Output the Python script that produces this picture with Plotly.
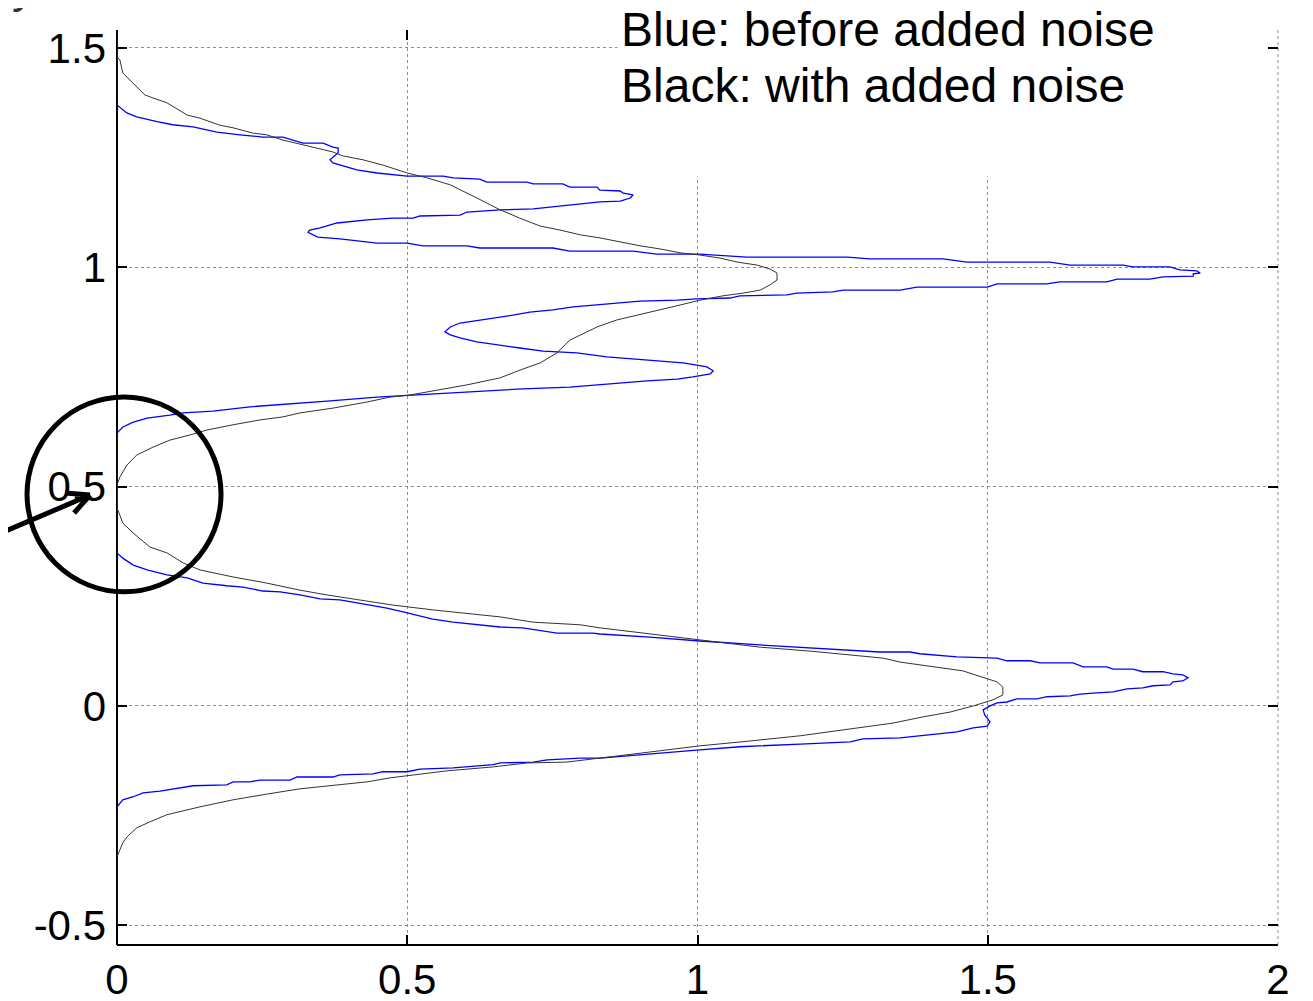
import plotly.graph_objects as go

# ---- data (density on x, value on y) ----
blue_x = [0, 0, 0.017, 0.034, 0.069, 0.096, 0.131, 0.172, 0.212, 0.251, 0.286, 0.320, 0.355, 0.372, 0.381,
          0.381, 0.367, 0.372, 0.413, 0.448, 0.500, 0.562, 0.579, 0.625, 0.637, 0.706, 0.717, 0.768, 0.780,
          0.827, 0.832, 0.867, 0.872, 0.889, 0.884, 0.867, 0.832, 0.786, 0.717, 0.660, 0.603, 0.591, 0.522,
          0.510, 0.475, 0.431, 0.379, 0.350, 0.332, 0.329, 0.346, 0.384, 0.448, 0.500, 0.527, 0.603, 0.625,
          0.751, 0.780, 0.889, 0.930, 1.004, 1.085, 1.258, 1.297, 1.423, 1.464, 1.607, 1.642, 1.733, 1.750,
          1.814, 1.831, 1.860, 1.866, 1.854, 1.854, 1.802, 1.779, 1.723, 1.705, 1.624, 1.602, 1.516, 1.499,
          1.378, 1.349, 1.251, 1.233, 1.171, 1.154, 1.073, 1.056, 0.999, 0.965, 0.901, 0.837, 0.786, 0.751,
          0.711, 0.682, 0.648, 0.620, 0.591, 0.574, 0.565, 0.574, 0.591, 0.620, 0.655, 0.694, 0.734, 0.792,
          0.844, 0.889, 0.947, 0.975, 0.999, 1.016, 1.027, 1.022, 0.992, 0.965, 0.913, 0.844, 0.780, 0.699,
          0.603, 0.505, 0.448, 0.362, 0.286, 0.229, 0.165, 0.114, 0.091, 0.052, 0.028, 0.010, 0,
          0, 0.010, 0.028, 0.052, 0.086, 0.121, 0.148, 0.189, 0.217, 0.251, 0.281, 0.315, 0.350, 0.384,
          0.436, 0.465, 0.500, 0.544, 0.579, 0.613, 0.660, 0.699, 0.758, 0.820, 0.832, 0.918, 1.004, 1.108,
          1.194, 1.263, 1.314, 1.366, 1.383, 1.447, 1.516, 1.533, 1.573, 1.590, 1.647, 1.664, 1.705, 1.716,
          1.750, 1.767, 1.802, 1.819, 1.836, 1.845, 1.836, 1.819, 1.814, 1.785, 1.767, 1.740, 1.716, 1.688,
          1.659, 1.642, 1.602, 1.585, 1.550, 1.533, 1.516, 1.504, 1.492, 1.495, 1.504, 1.499, 1.475, 1.447,
          1.423, 1.378, 1.361, 1.349, 1.285, 1.263, 1.177, 1.073, 1.004, 0.918, 0.832, 0.798, 0.741, 0.717,
          0.660, 0.648, 0.603, 0.579, 0.522, 0.500, 0.458, 0.441, 0.384, 0.372, 0.310, 0.298, 0.246, 0.229,
          0.200, 0.189, 0.131, 0.109, 0.074, 0.045, 0.028, 0.010, 0, 0]
blue_y = [1.541, 1.370, 1.352, 1.343, 1.332, 1.325, 1.320, 1.308, 1.302, 1.297, 1.297, 1.283, 1.283, 1.274, 1.272,
          1.261, 1.245, 1.238, 1.222, 1.215, 1.208, 1.208, 1.204, 1.201, 1.194, 1.194, 1.190, 1.190, 1.183,
          1.183, 1.176, 1.174, 1.169, 1.165, 1.158, 1.151, 1.149, 1.142, 1.133, 1.131, 1.126, 1.119, 1.117,
          1.112, 1.112, 1.108, 1.101, 1.090, 1.085, 1.080, 1.069, 1.065, 1.055, 1.055, 1.049, 1.049, 1.044,
          1.044, 1.037, 1.037, 1.030, 1.030, 1.023, 1.023, 1.019, 1.019, 1.012, 1.012, 1.005, 1.005, 1.001,
          1.001, 0.994, 0.992, 0.987, 0.985, 0.980, 0.978, 0.973, 0.973, 0.967, 0.967, 0.962, 0.962, 0.955,
          0.955, 0.948, 0.948, 0.944, 0.941, 0.937, 0.935, 0.930, 0.928, 0.925, 0.923, 0.916, 0.910, 0.903,
          0.898, 0.891, 0.884, 0.878, 0.873, 0.864, 0.853, 0.846, 0.839, 0.830, 0.823, 0.816, 0.809, 0.805,
          0.796, 0.791, 0.784, 0.782, 0.777, 0.773, 0.764, 0.757, 0.750, 0.745, 0.741, 0.734, 0.727, 0.723,
          0.716, 0.709, 0.704, 0.695, 0.688, 0.682, 0.672, 0.668, 0.663, 0.656, 0.647, 0.636, 0.622,
          0.349, 0.337, 0.321, 0.310, 0.299, 0.292, 0.280, 0.274, 0.271, 0.262, 0.260, 0.253, 0.244, 0.242,
          0.230, 0.223, 0.212, 0.198, 0.191, 0.187, 0.180, 0.178, 0.166, 0.166, 0.164, 0.157, 0.148, 0.139,
          0.132, 0.128, 0.123, 0.123, 0.119, 0.112, 0.109, 0.103, 0.103, 0.098, 0.098, 0.089, 0.089, 0.084,
          0.084, 0.078, 0.078, 0.073, 0.071, 0.064, 0.057, 0.055, 0.048, 0.046, 0.041, 0.039, 0.032, 0.030,
          0.027, 0.023, 0.021, 0.016, 0.016, 0.009, 0.007, 0.000, -0.009, -0.021, -0.036, -0.046, -0.050, -0.059,
          -0.062, -0.068, -0.071, -0.073, -0.075, -0.082, -0.087, -0.093, -0.100, -0.109, -0.119, -0.119, -0.123, -0.128,
          -0.130, -0.134, -0.139, -0.141, -0.144, -0.150, -0.150, -0.155, -0.157, -0.162, -0.162, -0.169, -0.169, -0.173,
          -0.173, -0.180, -0.182, -0.187, -0.194, -0.198, -0.207, -0.214, -0.230, -0.499]

black_x = [0, 0.005, 0.010, 0.028, 0.048, 0.062, 0.086, 0.121, 0.143, 0.177, 0.200, 0.234, 0.258, 0.286, 0.315,
           0.345, 0.372, 0.389, 0.424, 0.458, 0.500, 0.534, 0.574, 0.620, 0.660, 0.694, 0.729, 0.763, 0.798,
           0.832, 0.867, 0.901, 0.935, 0.970, 1.004, 1.039, 1.068, 1.103, 1.125, 1.137, 1.137, 1.125, 1.108,
           1.078, 1.044, 1.004, 0.970, 0.918, 0.861, 0.827, 0.798, 0.780, 0.758, 0.729, 0.699, 0.660, 0.603,
           0.551, 0.505, 0.470, 0.431, 0.372, 0.315, 0.286, 0.246, 0.200, 0.155, 0.126, 0.091, 0.062, 0.034,
           0.017, 0.005, 0, 0, 0.005, 0.010, 0.028, 0.057, 0.086, 0.114, 0.143, 0.200, 0.258, 0.315, 0.362,
           0.419, 0.475, 0.544, 0.603, 0.660, 0.717, 0.798, 0.832, 0.918, 1.004, 1.108, 1.194, 1.263, 1.320,
           1.349, 1.401, 1.457, 1.499, 1.516, 1.526, 1.526, 1.509, 1.475, 1.435, 1.388, 1.337, 1.285, 1.263,
           1.177, 1.090, 1.004, 0.918, 0.832, 0.775, 0.706, 0.648, 0.568, 0.517, 0.470, 0.431, 0.372, 0.315,
           0.258, 0.200, 0.143, 0.086, 0.057, 0.034, 0.017, 0.010, 0.005, 0]
black_y = [1.479, 1.473, 1.443, 1.420, 1.393, 1.386, 1.375, 1.347, 1.340, 1.324, 1.318, 1.306, 1.302, 1.290, 1.281,
           1.272, 1.263, 1.254, 1.245, 1.233, 1.215, 1.204, 1.188, 1.158, 1.131, 1.112, 1.094, 1.085, 1.074,
           1.067, 1.058, 1.049, 1.042, 1.033, 1.028, 1.021, 1.012, 1.005, 0.996, 0.987, 0.971, 0.960, 0.948,
           0.941, 0.935, 0.925, 0.914, 0.898, 0.880, 0.864, 0.846, 0.834, 0.805, 0.782, 0.768, 0.748, 0.732,
           0.720, 0.709, 0.704, 0.693, 0.679, 0.668, 0.659, 0.652, 0.641, 0.629, 0.618, 0.606, 0.590, 0.572,
           0.549, 0.522, 0.504, 0.451, 0.435, 0.417, 0.394, 0.362, 0.349, 0.326, 0.310, 0.294, 0.280, 0.264, 0.253,
           0.242, 0.230, 0.219, 0.210, 0.203, 0.191, 0.185, 0.178, 0.164, 0.150, 0.134, 0.125, 0.116, 0.109,
           0.100, 0.091, 0.080, 0.062, 0.055, 0.043, 0.025, 0.014, 0.000, -0.014, -0.025, -0.039, -0.048, -0.052,
           -0.068, -0.080, -0.091, -0.105, -0.119, -0.128, -0.130, -0.139, -0.148, -0.157, -0.164, -0.173, -0.182, -0.189,
           -0.201, -0.214, -0.230, -0.248, -0.264, -0.278, -0.299, -0.312, -0.328, -0.344]

x_ticks = [0, 0.5, 1, 1.5, 2]
x_tick_labels = ["0", "0.5", "1", "1.5", "2"]
y_ticks = [-0.5, 0, 0.5, 1, 1.5]
y_tick_labels = ["-0.5", "0", "0.5", "1", "1.5"]
x_range = [0, 2]
y_range = [-0.545, 1.541]

FONT = "Arial, 'Liberation Sans', sans-serif"

fig = go.Figure()
fig.add_trace(go.Scatter(x=blue_x, y=blue_y, mode="lines",
                         line=dict(color="#0000ff", width=1.3), showlegend=False))
fig.add_trace(go.Scatter(x=black_x, y=black_y, mode="lines",
                         line=dict(color="#333333", width=1), showlegend=False))

axis_common = dict(
    showgrid=True, gridcolor="#8c8c8c", gridwidth=1, griddash="dot",
    zeroline=False, showline=False, mirror="ticks", automargin=False,
    ticks="inside", ticklen=10, tickwidth=2, tickcolor="black",
    tickfont=dict(family=FONT, size=42, color="black"),
    layer="below traces",
)
fig.update_xaxes(range=x_range, tickvals=x_ticks, ticktext=x_tick_labels,
                 ticklabelstandoff=6, **axis_common)
fig.update_yaxes(range=y_range, tickvals=y_ticks, ticktext=y_tick_labels,
                 ticklabelstandoff=10, **axis_common)

# axis lines (left and bottom) and right grid line
fig.add_shape(type="line", xref="paper", yref="paper", x0=0, x1=0, y0=0, y1=1,
              line=dict(color="black", width=2), layer="below")
fig.add_shape(type="line", xref="paper", yref="paper", x0=0, x1=1, y0=0, y1=0,
              line=dict(color="black", width=2), layer="below")
fig.add_shape(type="line", xref="paper", yref="paper", x0=1, x1=1, y0=0, y1=1,
              line=dict(color="#8c8c8c", width=1, dash="dot"), layer="below")

# white box behind the text
fig.add_shape(type="rect", xref="paper", yref="paper", x0=0.431, x1=0.990, y0=0.840, y1=1.05,
              fillcolor="white", line=dict(width=0), layer="above")

fig.add_annotation(xref="paper", yref="paper", x=0.4324, y=1.0003, xanchor="left", yanchor="middle",
                   text="Blue: before added noise", showarrow=False,
                   font=dict(family=FONT, size=48, color="black"))
fig.add_annotation(xref="paper", yref="paper", x=0.4324, y=0.9393, xanchor="left", yanchor="middle",
                   text="Black: with added noise", showarrow=False,
                   font=dict(family=FONT, size=48, color="black"))

# partially visible y label at top-left
fig.add_annotation(xref="paper", yref="paper", x=-0.080, y=1.049, xanchor="center", yanchor="middle",
                   text="y", showarrow=False,
                   font=dict(family=FONT, size=47, color="#333333"))

# circle highlight and arrow
fig.add_shape(type="circle", xref="paper", yref="paper",
              x0=-0.0775, x1=0.0896, y0=0.386, y1=0.599,
              line=dict(color="black", width=5), layer="above")
fig.add_shape(type="line", xref="paper", yref="paper",
              x0=-0.1008, y0=0.4497, x1=-0.0232, y1=0.4918,
              line=dict(color="black", width=5), layer="above")
fig.add_shape(type="line", xref="paper", yref="paper",
              x0=-0.0232, y0=0.4918, x1=-0.0448, y1=0.4940,
              line=dict(color="black", width=5), layer="above")
fig.add_shape(type="line", xref="paper", yref="paper",
              x0=-0.0232, y0=0.4918, x1=-0.0370, y1=0.4721,
              line=dict(color="black", width=5), layer="above")

fig.update_layout(
    width=1313, height=1001,
    margin=dict(l=109, r=43, t=22, b=64),
    paper_bgcolor="white", plot_bgcolor="white",
    showlegend=False,
)

fig.write_html("out.html")
